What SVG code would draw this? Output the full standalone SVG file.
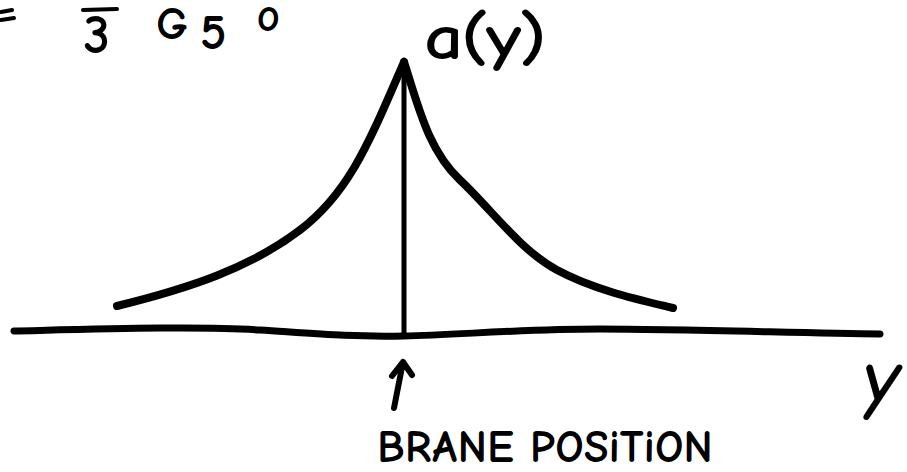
<svg xmlns="http://www.w3.org/2000/svg" width="907" height="472" viewBox="0 0 907 472">
  <style>
    .ink { fill: none; stroke: #000; stroke-linecap: round; stroke-linejoin: round; }
    .hand { font-family: "Comic Neue", "DejaVu Sans", "Liberation Sans", sans-serif; fill: #000; stroke: #000; stroke-width: 2; stroke-linejoin: round; }
  </style>
  <rect width="907" height="472" fill="#fff"/>

  <!-- top-left partial formula -->
  <g id="formula">
    <path class="ink" d="M1,12 L12,10 M1,20 L14,18" stroke-width="4"/>
    <path class="ink" d="M83,10 L117,9" stroke-width="4"/>
    <text class="hand" x="84" y="52" font-size="50">3</text>
    <text class="hand" x="157" y="38" font-size="42">G</text>
    <text class="hand" x="201" y="48" font-size="46">5</text>
    <text class="hand" x="258" y="30" font-size="32">O</text>
  </g>

  <!-- axis -->
  <g id="axis">
    <path class="ink" d="M14,331 C100,329 200,326 260,330 S350,337 404,336 S520,329 600,329 S800,333 880,334" stroke-width="7"/>
    <text class="hand" x="864" y="403" font-size="76" font-style="italic">y</text>
  </g>

  <!-- warp factor curve -->
  <g id="curve">
    <path class="ink" d="M117,306 C190,288 250,268 300,230 S370,140 404,62" stroke-width="8"/>
    <path class="ink" d="M404,62 C418,105 428,150 460,180 S520,250 557,270 S640,300 673,308" stroke-width="8"/>
    <path class="ink" d="M404,60 L404,335" stroke-width="5"/>
    <text class="hand" x="425" y="58" font-size="60" textLength="120" lengthAdjust="spacingAndGlyphs">a(y)</text>
  </g>

  <!-- brane position label -->
  <g id="brane">
    <path class="ink" d="M394,408 L403,362 M392,376 L403,362 L412,375" stroke-width="6"/>
    <text class="hand" x="378" y="461" font-size="42" textLength="334" lengthAdjust="spacing">BRANE  POSiTiON</text>
  </g>
</svg>
